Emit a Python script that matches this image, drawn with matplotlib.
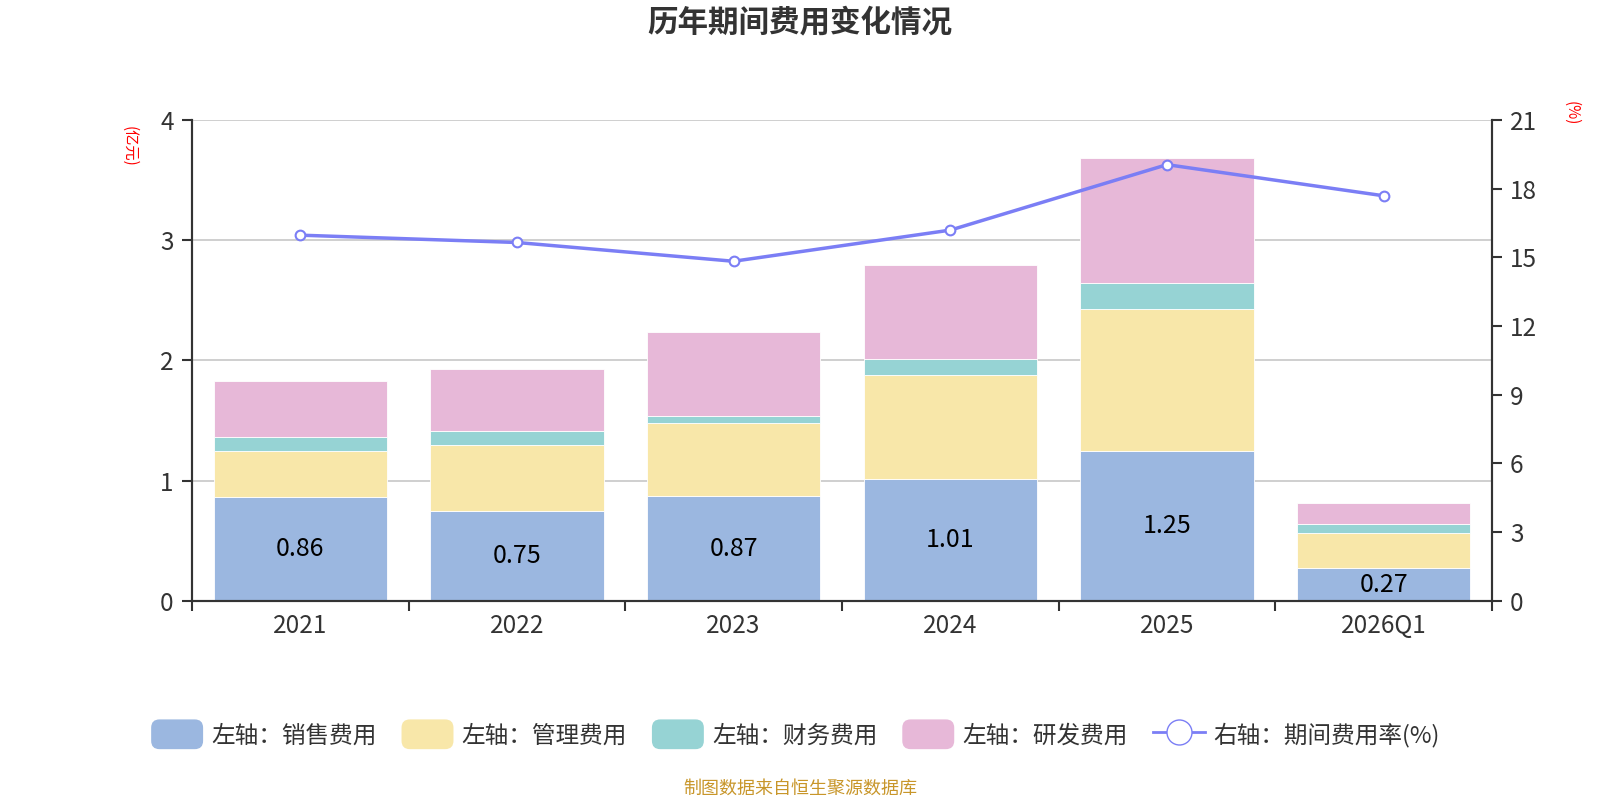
import matplotlib
matplotlib.use("Agg")
import matplotlib.pyplot as plt
from matplotlib.patches import Patch, FancyBboxPatch
from matplotlib.lines import Line2D
from matplotlib.legend_handler import HandlerPatch
import numpy as np

plt.rcParams['font.family'] = ['Noto Sans CJK SC', 'DejaVu Sans']

years = ["2021", "2022", "2023", "2024", "2025", "2026Q1"]
sales = [0.86, 0.75, 0.87, 1.01, 1.25, 0.27]
admin = [0.39, 0.55, 0.61, 0.87, 1.18, 0.29]
finance = [0.11, 0.11, 0.055, 0.13, 0.21, 0.08]
rnd = [0.47, 0.52, 0.70, 0.78, 1.04, 0.175]
expense_rate = [15.97, 15.65, 14.83, 16.19, 19.05, 17.69]

series_names = ["左轴：销售费用", "左轴：管理费用", "左轴：财务费用", "左轴：研发费用"]
colors = ["#9BB7E0", "#F8E7A9", "#96D3D4", "#E7B8D8"]
line_color = "#7B7EF5"
text_color = "#333333"


class RoundedPatchHandler(HandlerPatch):
    def create_artists(self, legend, orig_handle, xdescent, ydescent, width, height, fontsize, trans):
        p = FancyBboxPatch((-xdescent, -ydescent - 2), width, height + 4,
                           boxstyle="round,pad=0,rounding_size=6",
                           facecolor=orig_handle.get_facecolor(), edgecolor="none", transform=trans)
        return [p]


fig = plt.figure(figsize=(16, 8), dpi=100)
ax = fig.add_axes([0.1199, 0.249, 0.8126, 0.601])
ax2 = ax.twinx()

x = np.arange(len(years))
bottom = np.zeros(len(years))
for vals, col in zip([sales, admin, finance, rnd], colors):
    ax.bar(x, vals, width=0.8, bottom=bottom, color=col, edgecolor="white", linewidth=0.6, zorder=2)
    bottom += np.array(vals)

for xi, v in zip(x, sales):
    ax.text(xi, v / 2, f"{v:.2f}", ha="center", va="center", fontsize=18, color="black", zorder=3)

ax2.plot(x, expense_rate, color=line_color, linewidth=2.5, marker="o", markersize=7,
         markerfacecolor="white", markeredgecolor=line_color, markeredgewidth=1.5, zorder=4)

ax.set_xlim(-0.5, len(years) - 0.5)
ax.set_ylim(0, 4)
ax.set_yticks([0, 1, 2, 3, 4])
ax2.set_ylim(0, 21)
ax2.set_yticks(range(0, 22, 3))

ax.set_xticks(x)
ax.set_xticklabels(years)
ax.set_xticks(np.arange(-0.5, len(years)), minor=True)
ax.tick_params(axis="x", which="major", length=0, labelsize=17.5, colors=text_color, pad=9)
ax.tick_params(axis="x", which="minor", length=7, width=1.5, color=text_color, direction="out")
ax.tick_params(axis="y", length=7, width=1.5, labelsize=17.5, colors=text_color, pad=6)
ax2.tick_params(axis="y", length=7, width=1.5, labelsize=17.5, colors=text_color, pad=6)

ax.grid(axis="y", color="#CCCCCC", linewidth=1.3, zorder=0)
ax.set_axisbelow(True)
for a in (ax, ax2):
    a.spines["top"].set_visible(False)
    for s in ("left", "right", "bottom"):
        a.spines[s].set_color(text_color)
        a.spines[s].set_linewidth(1.5)
ax2.set_zorder(ax.get_zorder() + 1)

fig.text(0.5, 0.972, "历年期间费用变化情况", ha="center", va="center", fontsize=22,
         fontweight="bold", color=text_color)
fig.text(0.081, 0.817, "(亿元)", rotation=-90, ha="center", va="center", fontsize=11, color="red")
fig.text(0.982, 0.858, "(%)", rotation=-90, ha="center", va="center", fontsize=11, color="red")

handles = [Patch(facecolor=c, edgecolor=c) for c in colors]
handles.append(Line2D([0], [0], color=line_color, linewidth=2, marker="o", markersize=18,
                      markerfacecolor="white", markeredgecolor=line_color))
labels = series_names + ["右轴：期间费用率(%)"]
fig.legend(handles, labels, loc="center", bbox_to_anchor=(0.497, 0.0816), ncol=5, frameon=False,
           fontsize=17, handlelength=2.2, handleheight=1.2, columnspacing=1.05, handletextpad=0.35,
           labelcolor=text_color, handler_map={Patch: RoundedPatchHandler()})

fig.text(0.5, 0.014, "制图数据来自恒生聚源数据库", ha="center", va="center", fontsize=13, color="#C8962A")

fig.savefig("out.png", dpi=100)
